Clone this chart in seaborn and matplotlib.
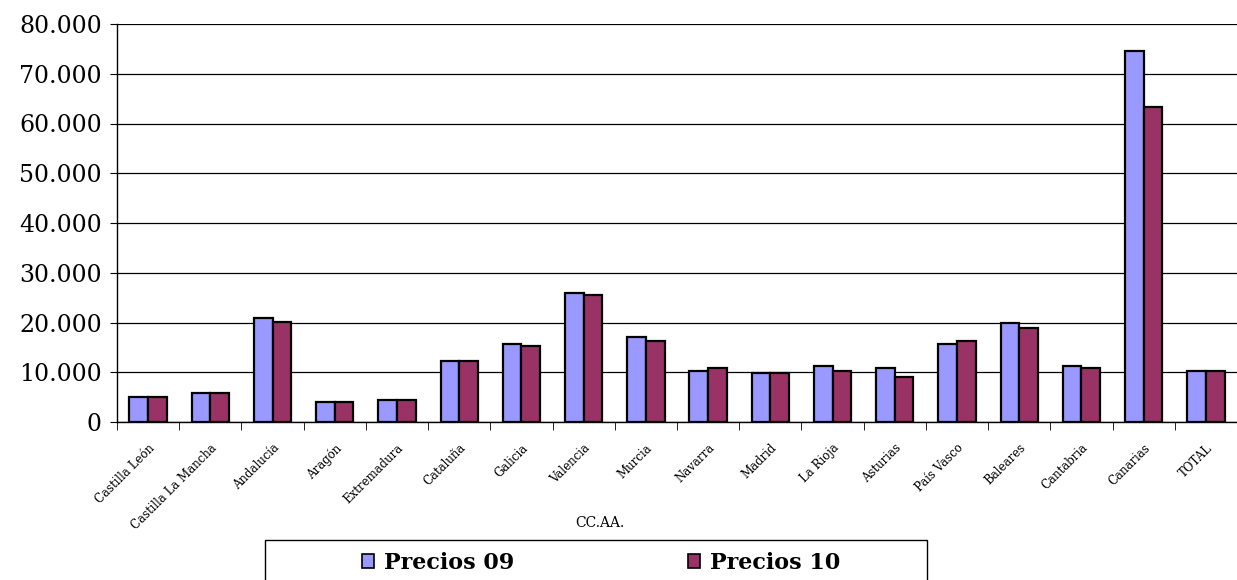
import matplotlib
matplotlib.use("Agg")
import matplotlib.pyplot as plt
import matplotlib.ticker as mticker
from matplotlib.patches import Rectangle
import numpy as np
import pandas as pd
import seaborn as sns

# data
regiones = [
    "Castilla León", "Castilla La Mancha", "Andalucía", "Aragón", "Extremadura",
    "Cataluña", "Galicia", "Valencia", "Murcia", "Navarra", "Madrid", "La Rioja",
    "Asturias", "País Vasco", "Baleares", "Cantabria", "Canarias", "TOTAL",
]
precios_09 = [5000, 5800, 21000, 4100, 4500, 12200, 15700, 26000, 17000,
              10300, 9800, 11200, 10800, 15700, 19800, 11200, 74600, 10300]
precios_10 = [5000, 5800, 20200, 4000, 4500, 12200, 15300, 25600, 16200,
              10800, 9800, 10300, 9000, 16200, 18800, 10800, 63400, 10300]
series = ["Precios 09", "Precios 10"]
colores = ["#9999FF", "#993366"]

df = pd.DataFrame({"region": regiones, series[0]: precios_09, series[1]: precios_10})
df_long = df.melt(id_vars="region", var_name="serie", value_name="precio")

sns.set_style("white")
plt.rcParams["font.family"] = ["DejaVu Serif"]
plt.rcParams["text.color"] = "black"
plt.rcParams["xtick.color"] = "black"
plt.rcParams["ytick.color"] = "black"
plt.rcParams["axes.labelcolor"] = "black"

W, H = 1237, 580
fig = plt.figure(figsize=(W / 100, H / 100), dpi=100)
cat_w = 62.8
left_px, top_px, bottom_px = 117, 24, 422
ax = fig.add_axes([left_px / W, 1 - bottom_px / H, (W - left_px) / W, (bottom_px - top_px) / H])

sns.barplot(data=df_long, x="region", y="precio", hue="serie", palette=colores,
            saturation=1, width=0.6, edgecolor="black", linewidth=1.6, ax=ax, legend=True)

ax.set_ylim(0, 80000)
ax.set_xlim(-0.5, -0.5 + (W - left_px) / cat_w)
ax.yaxis.set_major_locator(mticker.MultipleLocator(10000))
ax.yaxis.set_major_formatter(mticker.FuncFormatter(lambda v, p: f"{int(v):,}".replace(",", ".")))
ax.grid(axis="y", color="black", linewidth=0.9)
ax.set_axisbelow(True)
for s in ["top", "right"]:
    ax.spines[s].set_visible(False)
ax.spines["left"].set_color("black")
ax.spines["bottom"].set_color("black")
ax.spines["left"].set_linewidth(1.0)
ax.spines["bottom"].set_linewidth(1.0)

ax.tick_params(axis="y", labelsize=17, length=5, direction="out", left=True, pad=6)
ax.tick_params(axis="x", length=0, labelsize=8.5, pad=14)
ax.set_xticks(range(len(regiones)))
ax.set_xticklabels(regiones, rotation=45, ha="right", rotation_mode="anchor")
ax.set_xticks(np.arange(-0.5, len(regiones), 1), minor=True)
ax.tick_params(axis="x", which="minor", length=6, bottom=True, direction="out")

ax.set_xlabel("CC.AA.", fontsize=10)
ax.xaxis.set_label_coords((600 - left_px) / (W - left_px), -0.235)
ax.set_ylabel("")

# legend box (cut off at the bottom edge, as in the reference)
fig.patches.append(Rectangle((265 / W, -0.05), (927 - 265) / W, 0.05 + (H - 540) / H,
                             transform=fig.transFigure, facecolor="white",
                             edgecolor="black", linewidth=1.0, zorder=-1))
leg = ax.legend(loc="center", bbox_to_anchor=(601 / W, 1 - 563 / H),
                bbox_transform=fig.transFigure, ncol=2, frameon=False,
                prop={"weight": "bold", "size": 16}, handlelength=0.55, handleheight=0.55,
                columnspacing=7.8, handletextpad=0.45)
for h in leg.legend_handles:
    h.set_edgecolor("black")
    h.set_linewidth(1.2)

fig.savefig("out.png", dpi=100)
